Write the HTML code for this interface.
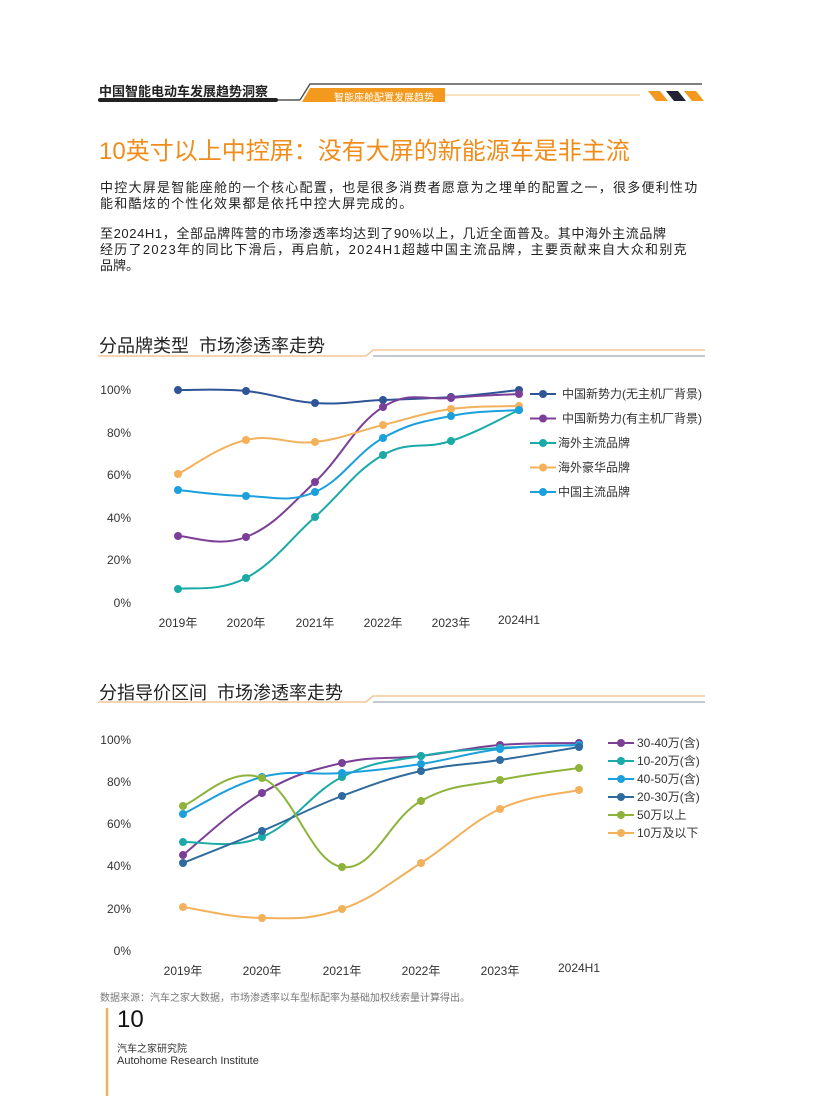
<!DOCTYPE html>
<html><head><meta charset="utf-8">
<style>
body{margin:0;background:#fff;}
#pg{position:relative;width:816px;height:1099px;overflow:hidden;background:#fff;font-family:"Liberation Sans","Noto Sans CJK SC",sans-serif;color:#222;}
.t{position:absolute;white-space:nowrap;}
</style></head><body><div id="pg">
<svg width="816" height="1099" style="position:absolute;left:0;top:0">
 <rect x="98" y="98" width="180" height="4" rx="2" fill="#222"/>
 <line x1="278" y1="100" x2="300" y2="100" stroke="#555" stroke-width="1.5"/>
 <polyline points="300,100 310,84 702,84" fill="none" stroke="#555" stroke-width="1.5"/>
 <polygon points="310,88 445,88 445,102 302,102" fill="#f39a1e"/>
 <line x1="445" y1="95" x2="640" y2="95" stroke="#f3c58a" stroke-width="1"/>
 <polygon points="648,91 660,91 668,101 656,101" fill="#f39a1e"/>
 <polygon points="666,91 678,91 686,101 674,101" fill="#223"/>
 <polygon points="684,91 696,91 704,101 692,101" fill="#f39a1e"/>
 <line x1="98" y1="356" x2="366" y2="356" stroke="#f3c896" stroke-width="1.5"/>
 <polyline points="366,356 373,350 705,350" fill="none" stroke="#f3c896" stroke-width="1.5"/>
 <line x1="373" y1="356" x2="705" y2="356" stroke="#8a93a0" stroke-width="1"/>
 <line x1="98" y1="702" x2="366" y2="702" stroke="#f3c896" stroke-width="1.5"/>
 <polyline points="366,702 373,696 705,696" fill="none" stroke="#f3c896" stroke-width="1.5"/>
 <line x1="373" y1="702" x2="705" y2="702" stroke="#8a93a0" stroke-width="1"/>
 <line x1="107" y1="1008" x2="107" y2="1096" stroke="#f0b060" stroke-width="2.5"/>
 <g id="c1"></g><g id="c2"></g>
 <g font-family="Liberation Sans,Noto Sans CJK SC,sans-serif" font-size="12" fill="#333">
  <text x="131" y="394" text-anchor="end">100%</text>
  <text x="131" y="437" text-anchor="end">80%</text>
  <text x="131" y="479" text-anchor="end">60%</text>
  <text x="131" y="522" text-anchor="end">40%</text>
  <text x="131" y="564" text-anchor="end">20%</text>
  <text x="131" y="607" text-anchor="end">0%</text>
  <text x="178" y="627" text-anchor="middle">2019年</text>
  <text x="246" y="627" text-anchor="middle">2020年</text>
  <text x="315" y="627" text-anchor="middle">2021年</text>
  <text x="383" y="627" text-anchor="middle">2022年</text>
  <text x="451" y="627" text-anchor="middle">2023年</text>
  <text x="519" y="624" text-anchor="middle">2024H1</text>
  <text x="131" y="744" text-anchor="end">100%</text>
  <text x="131" y="786" text-anchor="end">80%</text>
  <text x="131" y="828" text-anchor="end">60%</text>
  <text x="131" y="870" text-anchor="end">40%</text>
  <text x="131" y="913" text-anchor="end">20%</text>
  <text x="131" y="955" text-anchor="end">0%</text>
  <text x="183" y="975" text-anchor="middle">2019年</text>
  <text x="262" y="975" text-anchor="middle">2020年</text>
  <text x="342" y="975" text-anchor="middle">2021年</text>
  <text x="421" y="975" text-anchor="middle">2022年</text>
  <text x="500" y="975" text-anchor="middle">2023年</text>
  <text x="579" y="972" text-anchor="middle">2024H1</text>
 </g>
</svg>
<div class="t" style="left:99px;top:81px;font-size:13px;font-weight:bold;color:#222">中国智能电动车发展趋势洞察</div>
<div class="t" style="left:334px;top:89px;font-size:10px;color:#fff">智能座舱配置发展趋势</div>
<div class="t" style="left:99px;top:131px;font-size:24px;color:#f08c1a">10英寸以上中控屏：没有大屏的新能源车是非主流</div>
<div class="t" style="left:100px;top:180px;font-size:13px;line-height:16px;letter-spacing:1.25px;color:#222">中控大屏是智能座舱的一个核心配置，也是很多消费者愿意为之埋单的配置之一，很多便利性功<br>能和酷炫的个性化效果都是依托中控大屏完成的。</div>
<div class="t" style="left:100px;top:226px;font-size:13px;line-height:16px;color:#222"><span style="letter-spacing:0.6px">至2024H1，全部品牌阵营的市场渗透率均达到了90%以上，几近全面普及。其中海外主流品牌</span><br><span style="letter-spacing:1.3px">经历了2023年的同比下滑后，再启航，2024H1超越中国主流品牌，主要贡献来自大众和别克</span><br>品牌。</div>
<div class="t" style="left:99px;top:332px;font-size:18px;color:#222">分品牌类型&nbsp;&nbsp;市场渗透率走势</div>
<div class="t" style="left:99px;top:679px;font-size:18px;color:#222">分指导价区间&nbsp;&nbsp;市场渗透率走势</div>
<div class="t" style="left:100px;top:989px;font-size:10px;color:#777">数据来源：汽车之家大数据，市场渗透率以车型标配率为基础加权线索量计算得出。</div>
<div class="t" style="left:117px;top:1006px;font-size:24px;color:#111">10</div>
<div class="t" style="left:117px;top:1040px;font-size:10px;color:#333">汽车之家研究院</div>
<div class="t" style="left:117px;top:1055px;font-size:11px;color:#333">Autohome Research Institute</div>
<script>
function path(xs,ys){let p='M'+xs[0]+','+ys[0];for(let i=0;i<xs.length-1;i++){const x0=xs[Math.max(i-1,0)],y0=ys[Math.max(i-1,0)],x1=xs[i],y1=ys[i],x2=xs[i+1],y2=ys[i+1],x3=xs[Math.min(i+2,xs.length-1)],y3=ys[Math.min(i+2,xs.length-1)];const t=0.2;p+=' C'+(x1+(x2-x0)*t)+','+(y1+(y2-y0)*t)+' '+(x2-(x3-x1)*t)+','+(y2-(y3-y1)*t)+' '+x2+','+y2;}return p;}
function draw(id,xs,series,lx,ly,dy){let s='';series.forEach((sr,k)=>{s+='<path d="'+path(xs,sr.y)+'" fill="none" stroke="'+sr.c+'" stroke-width="2"/>';sr.y.forEach((y,i)=>{s+='<circle cx="'+xs[i]+'" cy="'+y+'" r="4" fill="'+sr.c+'"/>';});const yy=ly+k*dy;s+='<line x1="'+lx+'" y1="'+yy+'" x2="'+(lx+26)+'" y2="'+yy+'" stroke="'+sr.c+'" stroke-width="2"/><circle cx="'+(lx+13)+'" cy="'+yy+'" r="4" fill="'+sr.c+'"/><text x="'+(lx+sr.o)+'" y="'+(yy+4)+'" font-size="12" fill="#333" font-family="Liberation Sans,Noto Sans CJK SC,sans-serif">'+sr.n+'</text>';});document.getElementById(id).innerHTML=s;}
draw('c1',[178,246,315,383,451,519],[
{c:'#2f5597',y:[390,391,403,400,397,390],n:'中国新势力(无主机厂背景)',o:32},
{c:'#7b3f98',y:[536,537,482,407,398,394],n:'中国新势力(有主机厂背景)',o:32},
{c:'#1aaaa8',y:[589,578,517,455,441,410],n:'海外主流品牌',o:28},
{c:'#f2b15a',y:[474,440,442,425,409,406],n:'海外豪华品牌',o:28},
{c:'#1ca0dc',y:[490,496,492,438,416,410],n:'中国主流品牌',o:28}],
530,394,24.5);
draw('c2',[183,262,342,421,500,579],[
{c:'#7b3f98',y:[855,793,763,756,745,743],n:'30-40万(含)',o:29},
{c:'#1aaaa8',y:[842,837,777,756,748,745],n:'10-20万(含)',o:29},
{c:'#1ca0dc',y:[814,777,773,764,749,745],n:'40-50万(含)',o:29},
{c:'#2e6b9e',y:[863,831,796,771,760,747],n:'20-30万(含)',o:29},
{c:'#8db33a',y:[806,778,867,801,780,768],n:'50万以上',o:29},
{c:'#f2b15a',y:[907,918,909,863,809,790],n:'10万及以下',o:29}],
608,743,18);
</script>
</div></body></html>
